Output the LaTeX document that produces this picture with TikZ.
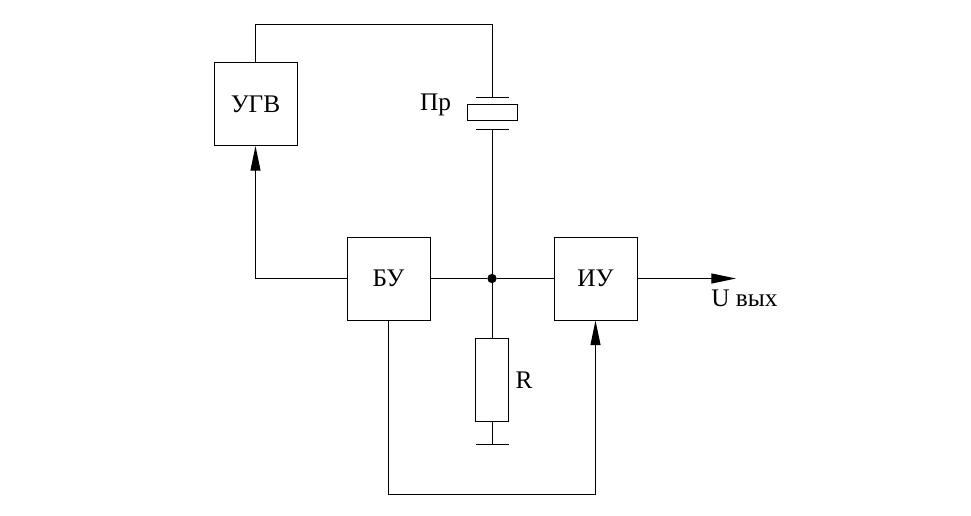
\documentclass[tikz,border=0pt]{standalone}
\usepackage{fontspec}
\setmainfont{Liberation Serif}
\usetikzlibrary{arrows.meta}
\tikzset{
  x=0.75pt,y=-0.75pt,
  wire/.style={draw=black,line width=0.75pt},
  blockbox/.style={draw=black,line width=0.75pt,minimum width=62.25pt,minimum height=62.25pt,inner sep=0pt,font=\fontsize{19pt}{22pt}\selectfont},
  elem/.style={draw=black,line width=0.75pt,inner sep=0pt},
  lbl/.style={inner sep=0pt,font=\fontsize{19pt}{22pt}\selectfont},
  tip/.style={-{Triangle[length=18.5pt,width=7.5pt]}},
  dotnode/.style={circle,fill=black,inner sep=0pt,minimum size=7pt}
}
\begin{document}
\begin{tikzpicture}
\useasboundingbox (0,0) rectangle (971,515);
\node[blockbox] (ugv) at (255.5,104) {УГВ};
\node[blockbox] (bu) at (388.5,278.5) {БУ};
\node[blockbox] (iu) at (595.5,278.5) {ИУ};
\node[elem,minimum width=37.5pt,minimum height=12pt] (pr) at (492,112) {};
\node[elem,minimum width=24.75pt,minimum height=62.25pt] (r) at (492,379.5) {};
\node[dotnode] (j) at (492,278.5) {};
\coordinate (pt) at (492,97);
\coordinate (pb) at (492,129);
\coordinate (gnd) at (492,444.5);
\coordinate (top) at (492,24.5);
\coordinate (topl) at (255.5,24.5);
\coordinate (out) at (736,278.5);
\coordinate (botl) at (388.5,494);
\coordinate (botr) at (595.5,494);
\coordinate (lft) at (255.5,278.5);
% crystal
\draw[wire] (ugv.north) -- (topl) -- (top) -- (pt);
\draw[wire] (476,97) -- (508.5,97);
\draw[wire] (476,129) -- (508.5,129);
\draw[wire] (pb) -- (j);
% junction lines
\draw[wire] (bu.east) -- (j);
\draw[wire] (j) -- (iu.west);
\draw[wire] (j) -- (r.north);
\draw[wire] (r.south) -- (gnd);
\draw[wire] (476,444.5) -- (508.5,444.5);
% arrows
\draw[wire,tip] (bu.west) -- (lft) -- (ugv.south);
\draw[wire,tip] (bu.south) -- (botl) -- (botr) -- (iu.south);
\draw[wire,tip] (iu.east) -- (out);
% labels
\node[lbl] (lpr) at (435.5,105) {Пр};
\node[lbl] (lr) at (524,380.5) {R};
\node[lbl] (lu) at (744.5,298) {U вых};
\end{tikzpicture}
\end{document}
